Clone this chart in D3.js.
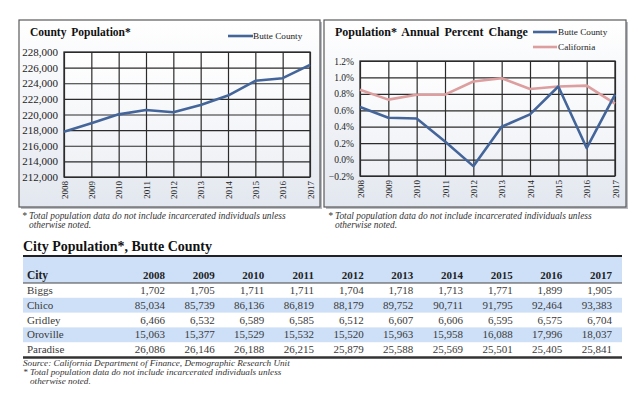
<!DOCTYPE html>
<html><head><meta charset="utf-8">
<script src="https://cdn.jsdelivr.net/npm/d3@7"></script>
<style>
html,body{margin:0;padding:0;background:#fff;}
svg{display:block;font-family:"Liberation Serif","Times New Roman",serif;}
</style></head>
<body><svg id="c" width="640" height="395"></svg>
<script>
// ---- data ----
const years = [2008,2009,2010,2011,2012,2013,2014,2015,2016,2017];
const countyPop = [217790,218870,220020,220580,220280,221220,222420,224310,224650,226360];
const countyTicks = [212000,214000,216000,218000,220000,222000,224000,226000,228000];
const butteChange = [0.64,0.51,0.50,0.22,-0.08,0.40,0.55,0.89,0.14,0.79];
const califChange = [0.85,0.73,0.79,0.79,0.95,0.99,0.86,0.89,0.90,0.68];
const pctTicks = [-0.2,0,0.2,0.4,0.6,0.8,1.0,1.2];
const cities = ["Biggs","Chico","Gridley","Oroville","Paradise"];
const biggs    = [1702,1705,1711,1711,1704,1718,1713,1771,1899,1905];
const chico    = [85034,85739,86136,86819,88179,89752,90711,91795,92464,93383];
const gridley  = [6466,6532,6589,6585,6512,6607,6606,6595,6575,6704];
const oroville = [15063,15377,15529,15532,15520,15963,15958,16088,17996,18037];
const paradise = [26086,26146,26188,26215,25879,25588,25569,25501,25405,25841];
const cityValues = [biggs,chico,gridley,oroville,paradise];

const BLUE = "#44659a", PINK = "#dc9e9e", GRID = "#2b2b2b";
const svg = d3.select("#c");
const defs = svg.append("defs");
const g1 = defs.append("linearGradient").attr("id","boxg").attr("x1",0).attr("y1",0).attr("x2",0).attr("y2",1);
g1.append("stop").attr("offset","0%").attr("stop-color","#ffffff");
g1.append("stop").attr("offset","100%").attr("stop-color","#e3e7ef");
const g2 = defs.append("linearGradient").attr("id","plotg").attr("x1",0).attr("y1",0).attr("x2",0).attr("y2",1);
g2.append("stop").attr("offset","0%").attr("stop-color","#ffffff");
g2.append("stop").attr("offset","100%").attr("stop-color","#eef0f5");

function panel(bx,by,bw,bh){
  svg.append("rect").attr("x",bx+2).attr("y",by+2).attr("width",bw).attr("height",bh).attr("fill","#b9bcc2");
  svg.append("rect").attr("x",bx).attr("y",by).attr("width",bw).attr("height",bh)
    .attr("fill","url(#boxg)").attr("stroke","#5a5a5a").attr("stroke-width",1.2);
}
function footnote(x,y,fs){
  svg.append("text").attr("x",x).attr("y",y).attr("font-style","italic").attr("font-size",fs).attr("fill","#333")
    .text("* Total population data do not include incarcerated individuals unless");
  svg.append("text").attr("x",x+7).attr("y",y+9).attr("font-style","italic").attr("font-size",fs).attr("fill","#333")
    .text("otherwise noted.");
}

function lineChart(opt){
  const x = d3.scalePoint().domain(years).range([opt.x0,opt.x1]);
  const y = d3.scaleLinear().domain(opt.domain).range([opt.y1,opt.y0]);
  svg.append("rect").attr("x",opt.x0).attr("y",opt.y0).attr("width",opt.x1-opt.x0).attr("height",opt.y1-opt.y0).attr("fill","url(#plotg)");
  const gy = svg.append("g").attr("transform",`translate(${opt.x0},0)`)
    .call(d3.axisLeft(y).tickValues(opt.ticks).tickSize(-(opt.x1-opt.x0)).tickFormat(opt.fmt).tickPadding(6));
  gy.select(".domain").remove();
  gy.selectAll("line").attr("stroke",GRID).attr("stroke-width",1.2);
  gy.selectAll("text").attr("font-size",opt.tickFont).attr("fill","#222").attr("font-family","Liberation Serif");
  const gx = svg.append("g").attr("transform",`translate(0,${opt.y1})`)
    .call(d3.axisBottom(x).tickSize(-(opt.y1-opt.y0)).tickPadding(0));
  gx.select(".domain").remove();
  gx.selectAll("line").attr("stroke",GRID).attr("stroke-width",1.2);
  gx.selectAll("text").attr("font-size",9).attr("fill","#222").attr("font-family","Liberation Serif")
    .attr("text-anchor","end").attr("dy",null).attr("y",0)
    .attr("transform","translate(3,4) rotate(-90)");
  svg.append("rect").attr("x",opt.x0).attr("y",opt.y0).attr("width",opt.x1-opt.x0).attr("height",opt.y1-opt.y0)
    .attr("fill","none").attr("stroke",GRID).attr("stroke-width",1.3);
  opt.series.forEach(s=>{
    svg.append("path").datum(s.values)
      .attr("d",d3.line().x((d,i)=>x(years[i])).y(d=>y(d)))
      .attr("fill","none").attr("stroke",s.color).attr("stroke-width",2.6).attr("stroke-linejoin","round");
  });
}

// ---- left panel ----
panel(19,20,301,187);
svg.append("text").attr("x",30).attr("y",36).attr("font-weight","bold").attr("font-size",11.5).attr("fill","#111")
  .attr("word-spacing",2).text("County Population*");
svg.append("line").attr("x1",228).attr("x2",253).attr("y1",36).attr("y2",36).attr("stroke",BLUE).attr("stroke-width",2.6);
svg.append("text").attr("x",253).attr("y",39).attr("font-size",9.2).attr("fill","#222").text("Butte County");
lineChart({x0:64,x1:310,y0:52,y1:177,domain:[212000,228000],ticks:countyTicks,
  fmt:d3.format(","),tickFont:11,series:[{values:countyPop,color:BLUE}]});
footnote(22,219,9.4);

// ---- right panel ----
panel(324,20,302,187);
svg.append("text").attr("x",335).attr("y",36).attr("font-weight","bold").attr("font-size",12).attr("fill","#111")
  .attr("word-spacing",2).text("Population* Annual Percent Change");
svg.append("line").attr("x1",533).attr("x2",557).attr("y1",32).attr("y2",32).attr("stroke",BLUE).attr("stroke-width",2.6);
svg.append("text").attr("x",558).attr("y",35).attr("font-size",9.2).attr("fill","#222").text("Butte County");
svg.append("line").attr("x1",533).attr("x2",557).attr("y1",47).attr("y2",47).attr("stroke",PINK).attr("stroke-width",2.6);
svg.append("text").attr("x",558).attr("y",50).attr("font-size",9.2).attr("fill","#222").text("California");
lineChart({x0:360,x1:615,y0:61,y1:176,domain:[-0.2,1.2],ticks:pctTicks,
  fmt:d=>d3.format(".1f")(d)+"%",tickFont:9.5,
  series:[{values:califChange,color:PINK},{values:butteChange,color:BLUE}]});
footnote(328,219,9.4);

// ---- table ----
const tx0 = 23, tx1 = 622;
svg.append("text").attr("x",23).attr("y",251).attr("font-weight","bold").attr("font-size",14).attr("fill","#111").text("City Population*, Butte County");
const colX = d3.scalePoint().domain(years).range([165,612]);
const rowY = d3.scaleBand().domain(cities).range([283,357]);
const headTop = 256;
svg.append("rect").attr("x",tx0).attr("y",headTop).attr("width",tx1-tx0).attr("height",283-headTop).attr("fill","#cde0f7");
cities.forEach((c,i)=>{
  if(i%2===1) svg.append("rect").attr("x",tx0).attr("y",rowY(c)).attr("width",tx1-tx0).attr("height",rowY.bandwidth()).attr("fill","#cde0f7");
});
svg.append("line").attr("x1",tx0).attr("x2",tx1).attr("y1",headTop).attr("y2",headTop).attr("stroke","#222").attr("stroke-width",2);
svg.append("line").attr("x1",tx0).attr("x2",tx1).attr("y1",283).attr("y2",283).attr("stroke","#444").attr("stroke-width",1);
svg.append("line").attr("x1",tx0).attr("x2",tx1).attr("y1",357.5).attr("y2",357.5).attr("stroke","#333").attr("stroke-width",2.5);
svg.append("text").attr("x",27).attr("y",279).attr("font-weight","bold").attr("font-size",11.5).attr("fill","#222").text("City");
years.forEach(yr=>{
  svg.append("text").attr("x",colX(yr)).attr("y",279).attr("text-anchor","end").attr("font-weight","bold")
    .attr("font-size",11).attr("fill","#222").text(yr);
});
cities.forEach((c,i)=>{
  const yy = rowY(c)+rowY.bandwidth()/2+3.5;
  svg.append("text").attr("x",27).attr("y",yy).attr("font-size",11).attr("fill","#3a3a3a").text(c);
  cityValues[i].forEach((v,j)=>{
    svg.append("text").attr("x",colX(years[j])).attr("y",yy).attr("text-anchor","end")
      .attr("font-size",11).attr("fill","#3a3a3a").text(d3.format(",")(v));
  });
});
svg.append("text").attr("x",23).attr("y",365.5).attr("font-style","italic").attr("font-size",9.2).attr("fill","#333")
  .text("Source: California Department of Finance, Demographic Research Unit");
footnote(23,375,9.2);
</script></body></html>
